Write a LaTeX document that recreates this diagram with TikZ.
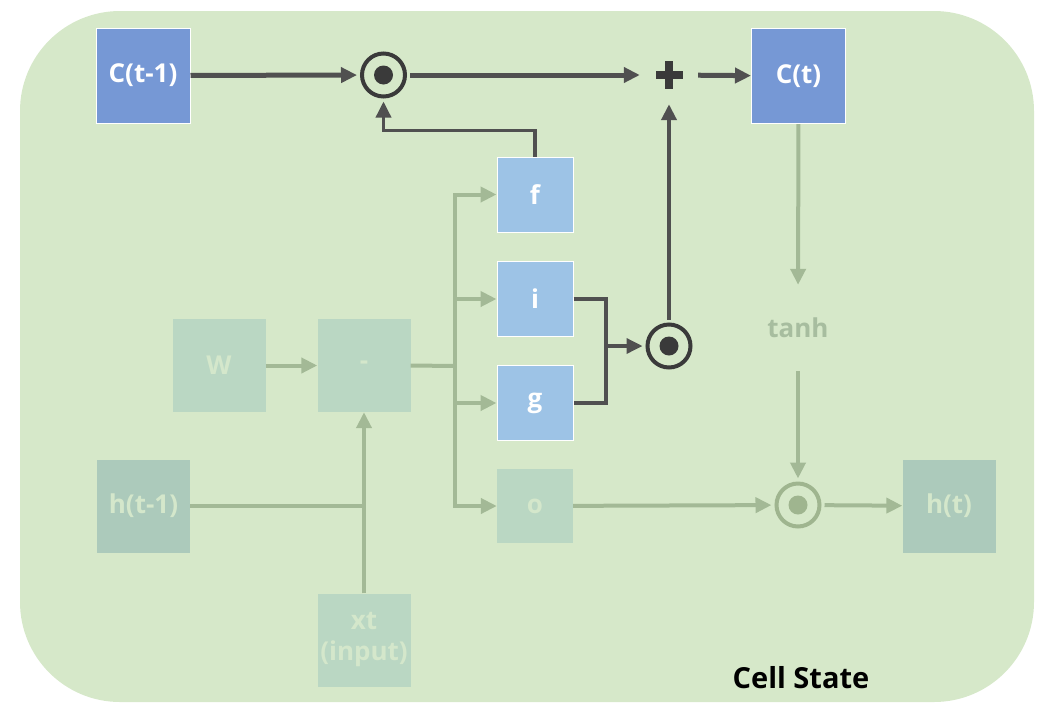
\documentclass[tikz,border=0pt]{standalone}
\usepackage{fontspec}
\setmainfont{Open Sans}
\usetikzlibrary{arrows.meta}
\definecolor{CellGreen}{HTML}{D6E8C9}
\definecolor{StateBlue}{HTML}{7698D5}
\definecolor{GateBlue}{HTML}{9DC3E6}
\definecolor{FadeBox}{HTML}{BAD7C3}
\definecolor{FadeHidden}{HTML}{ACCABB}
\definecolor{FadeLine}{HTML}{A3B996}
\definecolor{FadeDot}{HTML}{9FB58F}
\definecolor{FadeText}{HTML}{D4E7CB}
\definecolor{FadeTanh}{HTML}{A7BD9F}
\definecolor{DarkLine}{HTML}{505050}
\definecolor{DarkDot}{HTML}{3A3A3A}

\begin{document}
\begin{tikzpicture}[x=1pt,y=-1pt,
  boxlabel/.style={font=\fontsize{26}{31}\selectfont\bfseries,align=center,inner sep=0},
  statebox/.style={boxlabel,fill=StateBlue,draw=white,line width=1,text=white,minimum width=94,minimum height=95},
  gatebox/.style={boxlabel,fill=GateBlue,draw=white,line width=1,text=white,minimum width=76,minimum height=75},
  fadebox/.style={boxlabel,fill=#1,text=FadeText,minimum width=93,minimum height=93},
  odot/.style={circle,draw=#1,line width=4,minimum size=43,outer sep=5,
    path picture={\fill[#1] (path picture bounding box.center) circle (9.5pt);}},
  darr/.style={draw=DarkLine,line width=#1,-{Triangle[length=16pt,width=15pt]}},
  dline/.style={draw=DarkLine,line width=3.5},
  farr/.style={draw=FadeLine,line width=4,-{Triangle[length=16pt,width=15pt]}},
  fline/.style={draw=FadeLine,line width=4}]
\useasboundingbox (0,0) rectangle (1055,716);
% rounded cell body
\fill[CellGreen,rounded corners=100] (20,11) rectangle (1034,702);

% cell state path along the top
\node[statebox] (cprev) at (143,75.5) {C(t-1)};
\node[odot=DarkDot] (forget) at (383.5,75) {};
\node[minimum size=58,inner sep=0,
  path picture={
    \fill[DarkDot] ([xshift=-13.5pt,yshift=-4pt]path picture bounding box.center) rectangle ([xshift=13.5pt,yshift=4pt]path picture bounding box.center);
    \fill[DarkDot] ([xshift=-4pt,yshift=-14pt]path picture bounding box.center) rectangle ([xshift=4pt,yshift=14pt]path picture bounding box.center);}] (plus) at (669,75) {};
\node[statebox] (cnow) at (798.5,76) {C(t)};

% gates
\node[gatebox] (f) at (535,194.5) {f};
\node[gatebox] (i) at (535,299) {i};
\node[gatebox] (g) at (535,403) {g};
\node[fadebox=FadeBox,minimum width=76,minimum height=74] (o) at (535,506) {o};
\node[odot=DarkDot] (update) at (669,346) {};

% faded input side
\node[fadebox=FadeBox] (W) at (219,365.5) {W};
\node[fadebox=FadeBox] (mix) at (364,365.5) {-};
\node[fadebox=FadeHidden] (hprev) at (143.5,506) {h(t-1)};
\node[fadebox=FadeBox] (xt) at (364,640) {xt\\(input)};
\node[boxlabel,text=FadeTanh,minimum height=86] (tanh) at (798,328) {tanh};
\node[odot=FadeDot] (output) at (798,505) {};
\node[fadebox=FadeHidden] (hnow) at (949,506) {h(t)};
\coordinate (bus) at (455,366);
\coordinate (join) at (606,346);

\node[font=\fontsize{29}{35}\selectfont\bfseries] (title) at (801,678) {Cell State};

% dark connectors
\draw[darr=5] (cprev) -- (forget);
\draw[darr=5] (forget) -- (plus);
\draw[darr=5] (plus) -- (cnow);
\draw[darr=3.5] (f.north) -- ++(0,-26) -| (forget);
\draw[dline] (i.east) -| (join) |- (g.east);
\draw[darr=3.5] (join) -- (update);
\draw[darr=4] (update) -- (plus);

% faded connectors
\draw[farr] (W) -- (mix);
\draw[fline] (mix.east) -- (bus);
\foreach \gate in {f,i,g,o} {\draw[farr] (bus) |- (\gate);}
\draw[fline] (hprev.east) -- (hprev.east -| xt.north);
\draw[farr] (xt) -- (mix);
\draw[farr] (cnow) -- (tanh);
\draw[farr] (tanh) -- (output);
\draw[farr] (o) -- (output);
\draw[farr] (output) -- (hnow);
\end{tikzpicture}
\end{document}
